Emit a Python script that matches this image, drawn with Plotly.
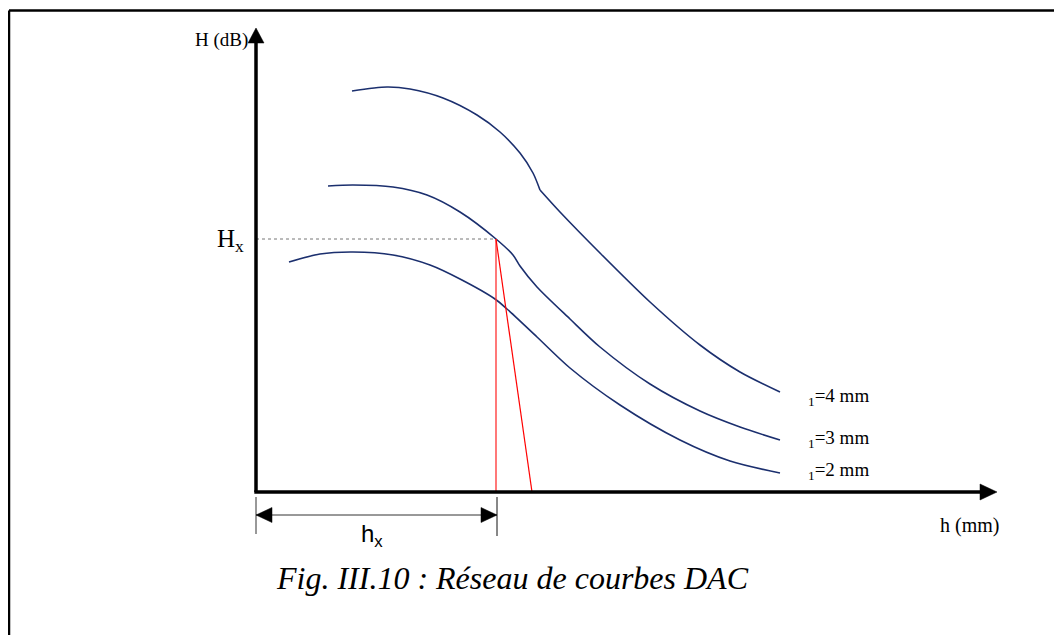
import plotly.graph_objects as go

# ---- data (arbitrary units: h in "mm", H in "dB") ----
curve4_a_h = [9.6, 13.1, 15.4, 18.7, 22.1, 24.4, 26.4, 27.7, 28.4]
curve4_a_H = [40.1, 40.5, 40.3, 39.4, 37.7, 36.0, 33.9, 31.9, 30.2]
curve4_b_h = [28.4, 30.4, 34.4, 39.4, 44.4, 48.4, 52.4]
curve4_b_H = [30.2, 28.0, 23.9, 19.0, 14.7, 12.0, 10.0]

curve3_h = [7.2, 9.7, 13.7, 17.1, 20.4, 24.0, 25.7, 26.4, 28.1, 31.4, 34.4, 39.4, 44.4, 48.4, 52.4]
curve3_H = [30.6, 30.7, 30.5, 29.7, 28.0, 25.3, 23.7, 22.6, 20.5, 17.3, 14.5, 10.8, 8.1, 6.5, 5.2]

curve2_h = [3.3, 6.4, 9.7, 13.7, 17.4, 20.4, 23.9, 25.1, 28.1, 31.4, 36.4, 42.4, 47.4, 52.4]
curve2_H = [23.0, 23.8, 24.0, 23.7, 22.7, 21.3, 19.3, 18.3, 15.5, 12.4, 8.7, 5.2, 3.1, 1.9]

hx_value = 24.0      # abscissa of the reading point
Hx_value = 25.3      # ordinate of the reading point
slant_foot = 27.6    # foot of the slanted red line

curve_labels = ["<sub>1</sub>=4 mm", "<sub>1</sub>=3 mm", "<sub>1</sub>=2 mm"]
curve_label_H = [9.5, 5.3, 2.1]
curve_label_h = 55.0

x_axis_end = 74.1
y_axis_end = 46.4

# ---- figure ----
NAVY = "#1B2F6E"
fig = go.Figure()

for hs, Hs in [(curve4_a_h, curve4_a_H), (curve4_b_h, curve4_b_H), (curve3_h, curve3_H), (curve2_h, curve2_H)]:
    fig.add_trace(go.Scatter(x=hs, y=Hs, mode="lines",
                             line=dict(color=NAVY, width=1.6, shape="spline", smoothing=0.8),
                             hoverinfo="skip", showlegend=False))

# dotted guide to Hx
fig.add_trace(go.Scatter(x=[0, hx_value], y=[Hx_value, Hx_value], mode="lines",
                         line=dict(color="#777777", width=1, dash="dot"),
                         hoverinfo="skip", showlegend=False))
# red lines
fig.add_trace(go.Scatter(x=[hx_value, hx_value], y=[Hx_value, 0], mode="lines",
                         line=dict(color="#FF3030", width=1.3), hoverinfo="skip", showlegend=False))
fig.add_trace(go.Scatter(x=[hx_value, slant_foot], y=[Hx_value, 0], mode="lines",
                         line=dict(color="#FF0000", width=1.2), hoverinfo="skip", showlegend=False))

# axes lines
head_len = 1.5
head_w = 0.8
fig.add_trace(go.Scatter(x=[0, 0], y=[0, y_axis_end - head_len], mode="lines",
                         line=dict(color="black", width=3.5), hoverinfo="skip", showlegend=False))
fig.add_trace(go.Scatter(x=[-0.17, x_axis_end - head_len], y=[0, 0], mode="lines",
                         line=dict(color="black", width=3.5), hoverinfo="skip", showlegend=False))
# arrow heads
fig.add_trace(go.Scatter(x=[-head_w, head_w, 0, -head_w],
                         y=[y_axis_end - head_len, y_axis_end - head_len, y_axis_end, y_axis_end - head_len],
                         mode="lines", fill="toself", fillcolor="black", line=dict(color="black", width=0.5),
                         hoverinfo="skip", showlegend=False))
fig.add_trace(go.Scatter(x=[x_axis_end - head_len - 0.2, x_axis_end - head_len - 0.2, x_axis_end, x_axis_end - head_len - 0.2],
                         y=[-head_w, head_w, 0, -head_w],
                         mode="lines", fill="toself", fillcolor="black", line=dict(color="black", width=0.5),
                         hoverinfo="skip", showlegend=False))

# dimension line hx
dim_y = -2.3
fig.add_trace(go.Scatter(x=[0, 0], y=[-0.5, -4.2], mode="lines",
                         line=dict(color="#333333", width=1), hoverinfo="skip", showlegend=False))
fig.add_trace(go.Scatter(x=[hx_value + 0.1, hx_value + 0.1], y=[-0.5, -4.4], mode="lines",
                         line=dict(color="#111111", width=1), hoverinfo="skip", showlegend=False))
fig.add_trace(go.Scatter(x=[0, hx_value + 0.1], y=[dim_y, dim_y], mode="lines",
                         line=dict(color="#333333", width=1), hoverinfo="skip", showlegend=False))
dh = 1.6
dw = 0.75
fig.add_trace(go.Scatter(x=[0, dh, dh, 0], y=[dim_y, dim_y + dw, dim_y - dw, dim_y],
                         mode="lines", fill="toself", fillcolor="black", line=dict(color="black", width=0.5),
                         hoverinfo="skip", showlegend=False))
fig.add_trace(go.Scatter(x=[hx_value + 0.1, hx_value + 0.1 - dh, hx_value + 0.1 - dh, hx_value + 0.1],
                         y=[dim_y, dim_y + dw, dim_y - dw, dim_y],
                         mode="lines", fill="toself", fillcolor="black", line=dict(color="black", width=0.5),
                         hoverinfo="skip", showlegend=False))

SERIF = "Liberation Serif, Times New Roman, serif"
SANS = "Liberation Sans, Arial, sans-serif"
ann = []
ann.append(dict(x=-0.6, y=45.2, text="H (dB)", xanchor="right", yanchor="middle",
                font=dict(family=SERIF, size=19, color="black")))
ann.append(dict(x=-1.0, y=25.2, text="H<sub>x</sub>", xanchor="right", yanchor="middle",
                font=dict(family=SERIF, size=25, color="black")))
for lab, yv in zip(curve_labels, curve_label_H):
    ann.append(dict(x=curve_label_h, y=yv, text=lab, xanchor="left", yanchor="middle",
                    font=dict(family=SERIF, size=19, color="black")))
ann.append(dict(x=71.3, y=-3.3, text="h (mm)", xanchor="center", yanchor="middle",
                font=dict(family=SERIF, size=20, color="black")))
ann.append(dict(x=11.6, y=-4.3, text="h<sub>x</sub>", xanchor="center", yanchor="middle",
                font=dict(family=SANS, size=24, color="black")))
ann.append(dict(x=25.6, y=-8.6, text="<i>Fig. III.10 : Réseau de courbes DAC</i>", xanchor="center", yanchor="middle",
                font=dict(family=SERIF, size=32, color="black")))
for a in ann:
    a.update(showarrow=False, xref="x", yref="y")

fig.update_layout(
    width=1062, height=635,
    margin=dict(l=0, r=0, t=0, b=0),
    paper_bgcolor="white", plot_bgcolor="white",
    annotations=ann,
    shapes=[
        dict(type="line", xref="paper", yref="paper", x0=1 / 1062, x1=1.0, y0=1 - 2.5 / 635, y1=1 - 2.5 / 635,
             line=dict(color="black", width=2.5)),
        dict(type="line", xref="paper", yref="paper", x0=1 / 1062, x1=1 / 1062, y0=0.0, y1=1 - 2.5 / 635,
             line=dict(color="black", width=2.5)),
    ],
    xaxis=dict(range=[-24.8, 81.4], visible=False, fixedrange=True),
    yaxis=dict(range=[-15.1, 48.4], visible=False, fixedrange=True),
)

fig.write_html("out.html")
